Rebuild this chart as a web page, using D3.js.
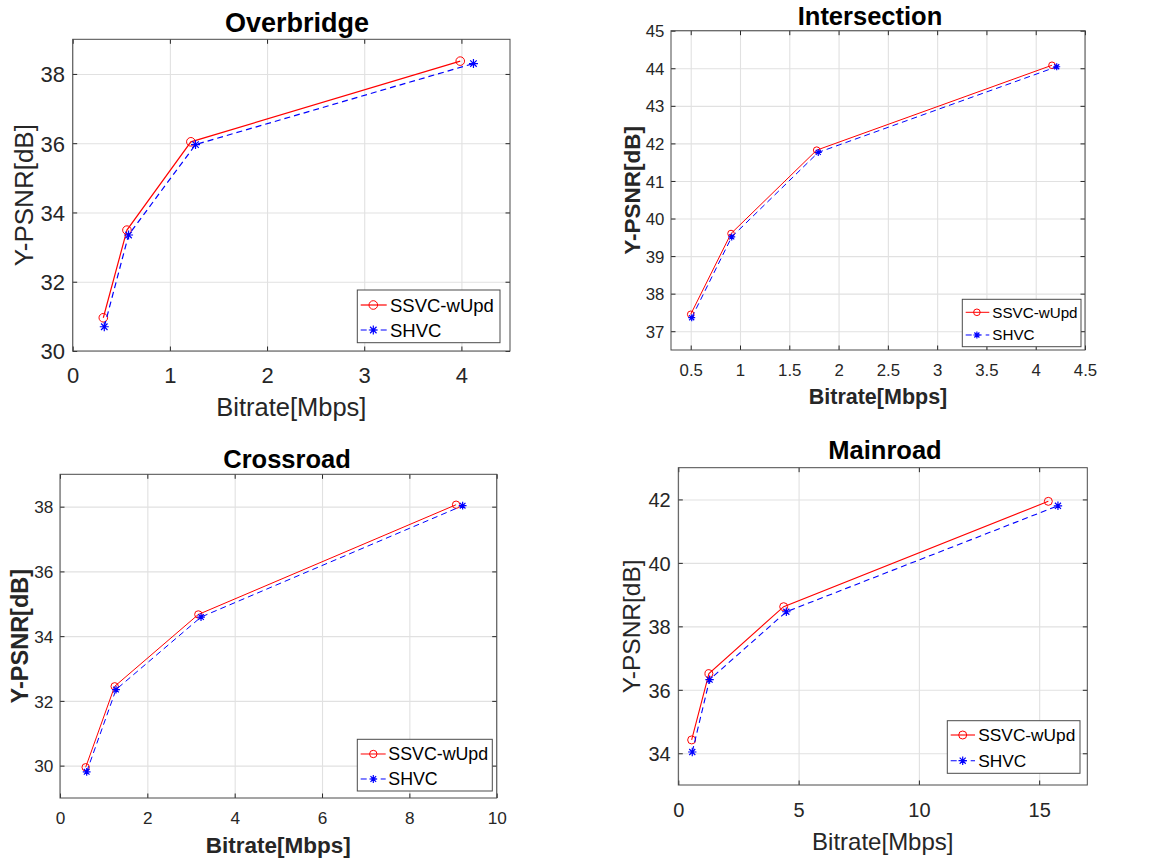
<!DOCTYPE html>
<html>
<head>
<meta charset="utf-8">
<script src="https://cdn.jsdelivr.net/npm/d3@7"></script>
<style>
body { margin: 0; background: #fff; }
text { font-family: "Liberation Sans", Arial, sans-serif; }
</style>
</head>
<body>
<svg id="chart" width="1162" height="860"></svg>
<script>
// values: [bitrate in Mbps, Y-PSNR in dB]
var overbridgeSSVC = [[0.315, 30.96], [0.558, 33.49], [1.216, 36.04], [3.988, 38.37]];
var overbridgeSHVC = [[0.325, 30.70], [0.575, 33.35], [1.264, 35.96], [4.124, 38.30]];
var intersectionSSVC = [[0.50, 37.45], [0.909, 39.60], [1.778, 41.82], [4.165, 44.08]];
var intersectionSHVC = [[0.51, 37.36], [0.916, 39.51], [1.794, 41.76], [4.213, 44.04]];
var crossroadSSVC = [[0.588, 29.95], [1.252, 32.45], [3.168, 34.67], [9.07, 38.06]];
var crossroadSHVC = [[0.611, 29.81], [1.283, 32.35], [3.229, 34.59], [9.22, 38.03]];
var mainroadSSVC = [[0.555, 34.42], [1.273, 36.51], [4.38, 38.62], [15.38, 41.94]];
var mainroadSHVC = [[0.58, 34.04], [1.30, 36.32], [4.49, 38.46], [15.78, 41.80]];

var titles = ["Overbridge", "Intersection", "Crossroad", "Mainroad"];
var seriesNames = ["SSVC-wUpd", "SHVC"];
var xLabel = "Bitrate[Mbps]", yLabel = "Y-PSNR[dB]";
var xTicks = [[0, 1, 2, 3, 4], [0.5, 1, 1.5, 2, 2.5, 3, 3.5, 4, 4.5], [0, 2, 4, 6, 8, 10], [0, 5, 10, 15]];
var yTicks = [[30, 32, 34, 36, 38], [37, 38, 39, 40, 41, 42, 43, 44, 45], [30, 32, 34, 36, 38], [34, 36, 38, 40, 42]];
var xDomains = [[0, 4.5], [0.3, 4.5], [0, 10], [0, 17]];
var yDomains = [[30, 39], [36.5, 45], [29, 39], [33, 43]];

// the four panels were pasted from differently scaled images, so each has its own sizes
var layout = [
  {left: 72.7, top: 39.3, right: 510, bottom: 351, titleX: 297, titleY: 31.7, titleSize: 27,
   tick: 22, xTickY: 31.7, yTickGap: 7.7, labSize: 25.5, labBold: false, xLabY: 416, yLabX: 33,
   r: 4.3, lw: 1.2,
   leg: {x: 357.3, y: 290, w: 142.7, h: 52.7, rows: [15, 40], l0: 3.4, l1: 29.4, m: 16, tx: 32.7, size: 18.5}},
  {left: 671, top: 30.7, right: 1085, bottom: 350, titleX: 870, titleY: 25, titleSize: 25.5,
   tick: 16.8, xTickY: 26, yTickGap: 6.7, labSize: 21.5, labBold: true, xLabY: 404.3, yLabX: 640,
   r: 3.3, lw: 1,
   leg: {x: 962.3, y: 299.3, w: 118.7, h: 47.4, rows: [13, 35.7], l0: 3.4, l1: 27, m: 14.6, tx: 30, size: 15.2}},
  {left: 60, top: 474.3, right: 496.7, bottom: 798, titleX: 287, titleY: 468.3, titleSize: 25.5,
   tick: 17.2, xTickY: 26.3, yTickGap: 6.7, labSize: 22.5, labBold: true, xLabY: 852.7, yLabX: 28,
   r: 3.7, lw: 1,
   leg: {x: 357.3, y: 739.3, w: 135, h: 51.7, rows: [14.7, 39.7], l0: 3.4, l1: 28.4, m: 16, tx: 31, size: 17.8}},
  {left: 678.3, top: 467.7, right: 1087.3, bottom: 785, titleX: 885, titleY: 459.3, titleSize: 25.5,
   tick: 20, xTickY: 31.7, yTickGap: 7.6, labSize: 24, labBold: false, xLabY: 850, yLabX: 640,
   r: 4, lw: 1.1,
   leg: {x: 947.3, y: 720.7, w: 132.7, h: 52.6, rows: [14.3, 40], l0: 3.4, l1: 27.7, m: 15.4, tx: 31, size: 17.3}}
];

var svg = d3.select("#chart");
var ink = "#262626";

function starPath(r) {
  var d = r * 0.72;
  return "M" + (-r) + ",0H" + r + "M0," + (-r) + "V" + r +
    "M" + (-d) + "," + (-d) + "L" + d + "," + d + "M" + (-d) + "," + d + "L" + d + "," + (-d);
}

function drawMarkers(g, pts, kind, r, color) {
  if (kind == "circle") {
    g.selectAll(null).data(pts).enter().append("circle")
      .attr("cx", function(d) { return d[0]; })
      .attr("cy", function(d) { return d[1]; })
      .attr("r", r).attr("fill", "none").attr("stroke", color).attr("stroke-width", 1);
  } else {
    g.selectAll(null).data(pts).enter().append("path")
      .attr("transform", function(d) { return "translate(" + d[0] + "," + d[1] + ")"; })
      .attr("d", starPath(r + 0.2)).attr("fill", "none").attr("stroke", color).attr("stroke-width", 1.2);
  }
}

function drawPanel(p, ssvc, shvc) {
  var L = layout[p];
  var w = L.right - L.left, h = L.bottom - L.top;
  var x = d3.scaleLinear().domain(xDomains[p]).range([0, w]);
  var y = d3.scaleLinear().domain(yDomains[p]).range([h, 0]);
  var fmt = function(d) { return d; };

  var g = svg.append("g").attr("transform", "translate(" + L.left + "," + L.top + ")");
  g.append("rect").attr("width", w).attr("height", h).attr("fill", "#fff");

  // grid
  g.append("g").attr("class", "grid").attr("transform", "translate(0," + h + ")")
    .call(d3.axisBottom(x).tickValues(xTicks[p]).tickSize(-h).tickFormat(""));
  g.append("g").attr("class", "grid")
    .call(d3.axisLeft(y).tickValues(yTicks[p]).tickSize(-w).tickFormat(""));
  g.selectAll(".grid .domain").remove();
  g.selectAll(".grid line").attr("stroke", "#e1e1e1").attr("stroke-width", 1.1);

  // inward ticks on all four sides
  var xb = g.append("g").attr("class", "ax").attr("transform", "translate(0," + h + ")")
    .call(d3.axisBottom(x).tickValues(xTicks[p]).tickSizeInner(-4.5).tickSizeOuter(0).tickFormat(fmt));
  var yl = g.append("g").attr("class", "ax")
    .call(d3.axisLeft(y).tickValues(yTicks[p]).tickSizeInner(-4.5).tickSizeOuter(0).tickFormat(fmt));
  g.append("g").attr("class", "ax")
    .call(d3.axisTop(x).tickValues(xTicks[p]).tickSizeInner(-4.5).tickSizeOuter(0).tickFormat(""));
  g.append("g").attr("class", "ax").attr("transform", "translate(" + w + ",0)")
    .call(d3.axisRight(y).tickValues(yTicks[p]).tickSizeInner(-4.5).tickSizeOuter(0).tickFormat(""));
  g.selectAll(".ax .domain").remove();
  g.selectAll(".ax line").attr("stroke", ink);

  xb.selectAll("text").attr("y", L.xTickY).attr("dy", null)
    .attr("font-size", L.tick).attr("fill", ink);
  yl.selectAll("text").attr("x", -L.yTickGap).attr("dy", "0.36em")
    .attr("font-size", L.tick).attr("fill", ink);

  g.append("rect").attr("width", w).attr("height", h)
    .attr("fill", "none").attr("stroke", "#4a4a4a").attr("stroke-width", 1);

  // series
  var line = d3.line().x(function(d) { return x(d[0]); }).y(function(d) { return y(d[1]); });
  g.append("path").datum(ssvc).attr("d", line)
    .attr("fill", "none").attr("stroke", "#ff0000").attr("stroke-width", L.lw);
  drawMarkers(g, ssvc.map(function(d) { return [x(d[0]), y(d[1])]; }), "circle", L.r, "#ff0000");
  g.append("path").datum(shvc).attr("d", line)
    .attr("fill", "none").attr("stroke", "#0000ff").attr("stroke-width", L.lw)
    .attr("stroke-dasharray", "6,4");
  drawMarkers(g, shvc.map(function(d) { return [x(d[0]), y(d[1])]; }), "star", L.r, "#0000ff");

  // title and axis labels
  svg.append("text").attr("x", L.titleX).attr("y", L.titleY)
    .attr("text-anchor", "middle").attr("font-size", L.titleSize).attr("font-weight", "bold")
    .attr("fill", "#000").text(titles[p]);
  svg.append("text").attr("x", L.left + w / 2).attr("y", L.xLabY)
    .attr("text-anchor", "middle").attr("font-size", L.labSize)
    .attr("font-weight", L.labBold ? "bold" : "normal").attr("fill", ink).text(xLabel);
  svg.append("text")
    .attr("transform", "translate(" + L.yLabX + "," + (L.top + h / 2) + ") rotate(-90)")
    .attr("text-anchor", "middle").attr("font-size", L.labSize + (L.labBold ? 1 : 0.5))
    .attr("font-weight", L.labBold ? "bold" : "normal").attr("fill", ink).text(yLabel);

  // legend
  var lg = svg.append("g").attr("transform", "translate(" + L.leg.x + "," + L.leg.y + ")");
  lg.append("rect").attr("width", L.leg.w).attr("height", L.leg.h)
    .attr("fill", "#fff").attr("stroke", "#4a4a4a").attr("stroke-width", 1);
  seriesNames.forEach(function(name, i) {
    var ry = L.leg.rows[i];
    var color = i == 0 ? "#ff0000" : "#0000ff";
    var seg = lg.append("line").attr("x1", L.leg.l0).attr("x2", L.leg.l1)
      .attr("y1", ry).attr("y2", ry).attr("stroke", color).attr("stroke-width", L.lw);
    if (i == 1) seg.attr("stroke-dasharray", "6,4");
    drawMarkers(lg, [[L.leg.m, ry]], i == 0 ? "circle" : "star", L.r, color);
    lg.append("text").attr("x", L.leg.tx).attr("y", ry).attr("dy", "0.36em")
      .attr("font-size", L.leg.size).attr("fill", "#000").text(name);
  });
}

drawPanel(0, overbridgeSSVC, overbridgeSHVC);
drawPanel(1, intersectionSSVC, intersectionSHVC);
drawPanel(2, crossroadSSVC, crossroadSHVC);
drawPanel(3, mainroadSSVC, mainroadSHVC);
</script>
</body>
</html>
